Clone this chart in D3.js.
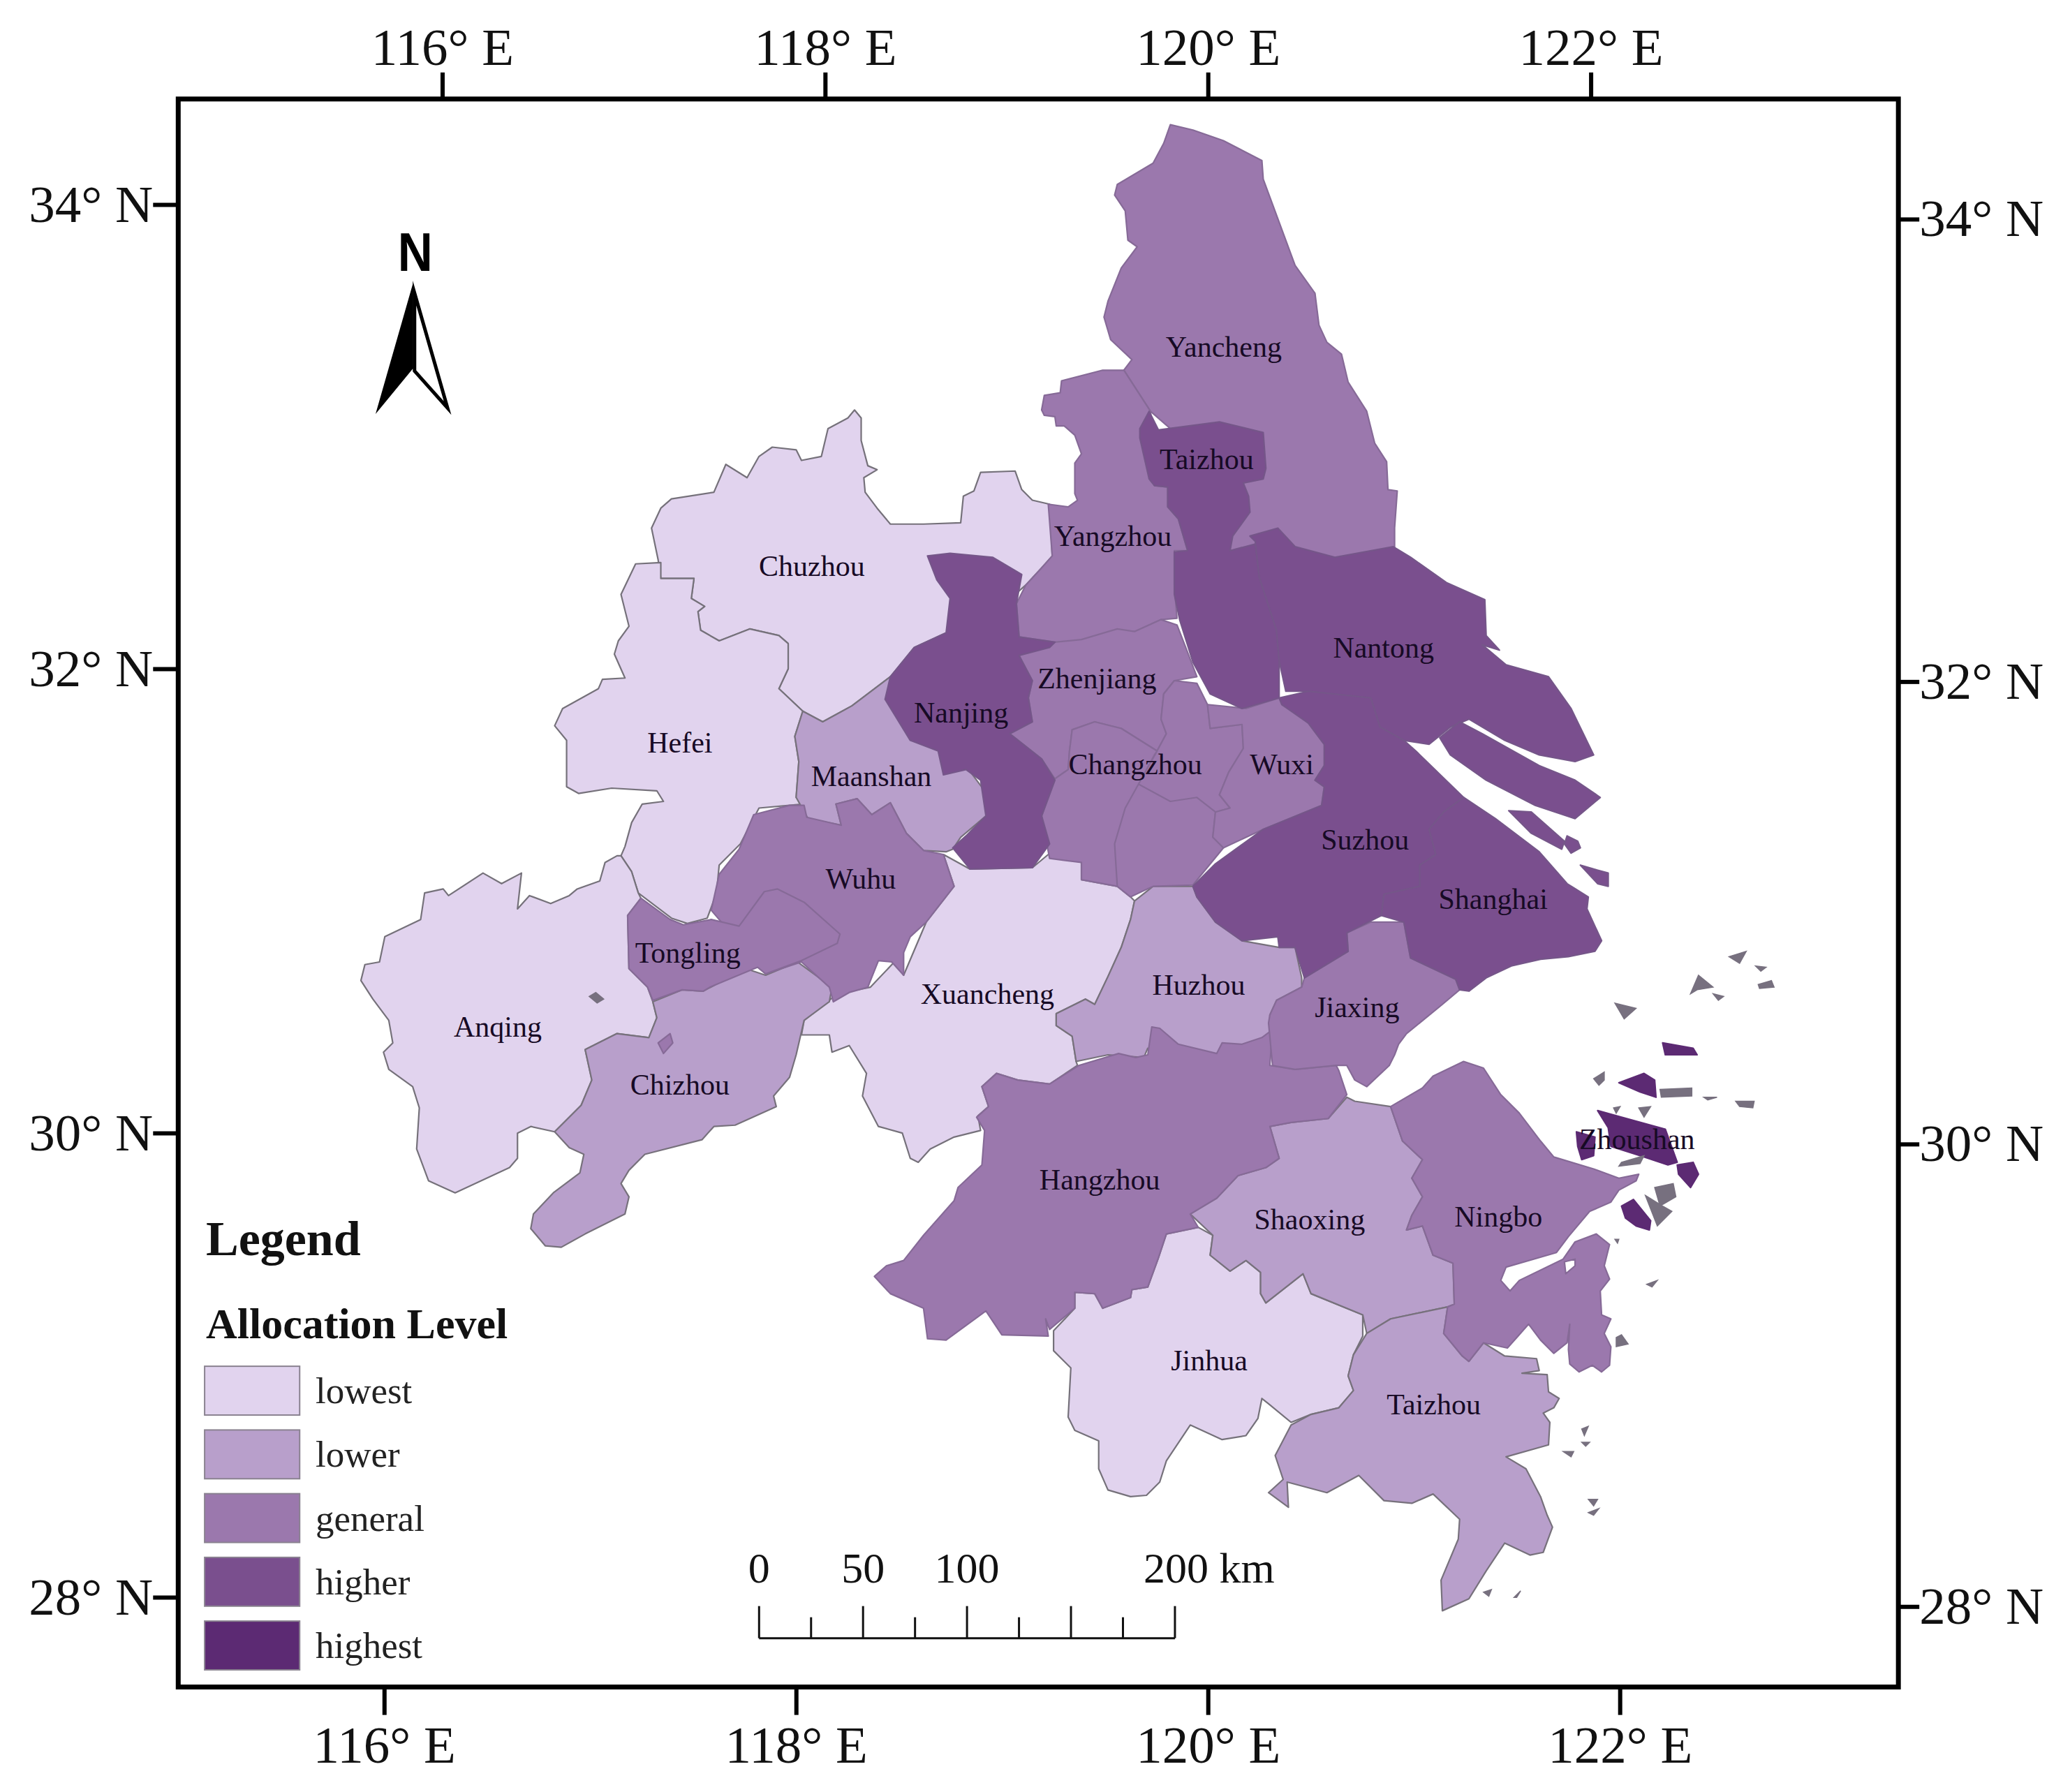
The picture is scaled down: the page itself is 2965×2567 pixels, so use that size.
<!DOCTYPE html>
<html><head><meta charset="utf-8"><title>Allocation level map</title>
<style>html,body{margin:0;background:#fff}svg{display:block}text{font-family:"Liberation Serif",serif}</style>
<script src="https://cdn.jsdelivr.net/npm/d3@7/dist/d3.min.js"></script></head><body><svg id="map"></svg>
<script>
// Map data: outlines in projected map units (easting, southing; 200 km = 315 units)
const Chuzhou=[[[491,398],[498,383],[506,376],[538,371],[547,350],[563,360],[572,344],[582,337],[600,339],[604,347],[619,344],[624,323],[639,315],[644,309],[649,315],[649,332],[654,351],[661,354],[651,360],[652,371],[661,383],[671,395],[696,395],[724,394],[726,374],[734,370],[739,356],[765,355],[770,369],[778,377],[791,380],[793,419],[785,428],[773,441],[740,470],[713,477],[689,488],[671,510],[642,532],[620,544],[605,536],[587,519],[594,504],[594,485],[587,479],[565,474],[542,483],[528,475],[526,461],[531,457],[521,451],[523,436],[498,436],[496,422]]];
const Hefei=[[[498,424],[479,425],[468,448],[474,472],[466,483],[463,493],[471,511],[454,512],[451,519],[424,534],[418,547],[427,558],[427,593],[436,598],[461,594],[495,596],[500,604],[484,606],[476,620],[471,638],[468,645],[476,657],[481,673],[506,692],[518,696],[533,692],[540,673],[542,652],[558,636],[572,609],[605,606],[600,601],[602,574],[599,555],[605,536],[587,519],[594,504],[594,485],[587,479],[565,474],[542,483],[528,475],[526,461],[531,457],[521,451],[523,436],[498,436]]];
const Anqing=[[[465,645],[456,650],[452,664],[435,670],[429,675],[415,681],[399,675],[390,685],[393,658],[378,666],[364,658],[338,675],[334,670],[320,673],[317,693],[290,706],[286,725],[275,727],[272,739],[281,753],[293,769],[296,786],[289,793],[293,806],[311,819],[316,835],[314,866],[323,890],[343,899],[384,880],[390,873],[390,854],[400,849],[418,853],[438,833],[446,814],[441,791],[465,779],[489,782],[495,767],[492,755],[488,744],[474,730],[473,690],[483,677],[481,673],[476,657],[468,645]]];
const Xuancheng=[[[711,644],[731,655],[778,654],[790,644],[815,650],[815,663],[842,668],[852,676],[855,679],[852,693],[845,714],[835,736],[825,757],[818,753],[796,764],[796,773],[808,781],[811,800],[812,803],[791,817],[767,814],[751,809],[740,819],[745,834],[737,841],[739,852],[719,857],[701,866],[692,876],[686,873],[680,854],[662,849],[650,826],[653,809],[640,788],[627,793],[625,780],[604,780],[606,769],[631,749],[656,744],[674,725],[681,735],[698,695],[719,668]]];
const Jinhua=[[[879,930],[903,925],[914,931],[912,946],[927,958],[939,950],[950,959],[950,975],[954,982],[982,960],[988,975],[1027,991],[1027,1007],[1020,1021],[1016,1037],[1020,1048],[1009,1061],[988,1066],[973,1072],[956,1058],[951,1054],[948,1069],[939,1082],[921,1085],[897,1074],[879,1101],[874,1117],[864,1127],[852,1128],[835,1123],[828,1107],[828,1086],[810,1078],[805,1068],[807,1031],[794,1018],[794,1003],[810,986],[810,974],[825,975],[831,986],[852,978],[853,972],[865,970],[873,948]]];
const Maanshan=[[[605,536],[620,544],[642,532],[671,510],[700,540],[745,600],[743,615],[724,631],[718,640],[713,642],[696,641],[683,628],[671,605],[657,614],[646,602],[630,606],[634,622],[609,617],[600,601],[602,574],[599,555]]];
const Chizhou=[[[492,755],[514,746],[530,747],[562,730],[577,735],[601,725],[627,744],[625,755],[606,769],[600,795],[595,812],[583,826],[585,834],[554,848],[538,849],[529,859],[486,870],[474,882],[468,892],[474,902],[471,915],[441,930],[423,940],[411,939],[400,926],[402,915],[417,899],[437,884],[440,870],[429,865],[418,853],[438,833],[446,814],[441,791],[465,779],[489,782],[495,767]]];
const Huzhou=[[[855,679],[869,668],[899,668],[902,676],[916,695],[936,709],[964,714],[976,714],[981,737],[981,744],[962,754],[957,765],[958,790],[939,795],[922,797],[899,802],[875,792],[865,790],[862,797],[835,795],[811,800],[808,781],[796,773],[796,764],[818,753],[825,757],[835,736],[845,714],[852,693]]];
const Shaoxing=[[[1015,827],[1021,830],[1048,834],[1057,860],[1072,874],[1064,888],[1072,902],[1064,916],[1060,927],[1072,924],[1080,946],[1095,952],[1096,983],[1091,985],[1048,994],[1030,1005],[1027,991],[988,975],[982,960],[954,982],[950,975],[950,959],[939,950],[927,958],[912,946],[914,931],[897,915],[917,903],[933,886],[954,880],[964,873],[957,849],[973,846],[1001,843]]];
const TaizhouZJ=[[[1030,1005],[1048,994],[1091,985],[1088,1005],[1102,1022],[1107,1026],[1118,1012],[1134,1022],[1158,1024],[1160,1033],[1147,1035],[1166,1036],[1167,1049],[1175,1054],[1171,1061],[1163,1065],[1168,1072],[1167,1089],[1135,1098],[1150,1107],[1161,1128],[1166,1142],[1170,1151],[1163,1170],[1153,1172],[1134,1163],[1120,1184],[1107,1205],[1087,1214],[1086,1191],[1099,1160],[1100,1145],[1080,1126],[1064,1133],[1043,1131],[1024,1112],[1000,1125],[970,1117],[971,1136],[956,1125],[967,1115],[961,1097],[973,1074],[988,1066],[1009,1061],[1020,1048],[1016,1037],[1020,1021]]];
const Yancheng=[[[882,94],[899,98],[922,106],[951,121],[952,135],[976,200],[991,221],[994,245],[1000,258],[1011,267],[1016,288],[1030,310],[1036,334],[1045,348],[1046,369],[1053,370],[1051,398],[1051,413],[1000,425],[927,415],[900,400],[890,330],[867,310],[858,296],[847,279],[853,271],[837,256],[832,239],[835,227],[845,202],[857,186],[850,181],[848,159],[840,147],[842,139],[869,123],[877,108]]];
const Yangzhou=[[[831,279],[847,279],[858,296],[867,310],[870,340],[870,366],[880,367],[880,382],[888,391],[895,415],[885,415],[885,441],[887,466],[875,467],[855,476],[842,475],[815,484],[795,484],[768,480],[766,455],[773,441],[785,428],[793,419],[790,380],[805,382],[812,377],[810,372],[810,349],[815,342],[810,328],[802,321],[796,321],[795,314],[787,313],[785,309],[787,298],[799,296],[800,287]]];
const Zhenjiang=[[[768,494],[795,484],[815,482],[842,474],[855,476],[875,467],[887,471],[894,489],[902,510],[885,513],[877,523],[875,542],[879,553],[872,566],[845,549],[825,544],[808,550],[806,566],[805,580],[795,587],[785,572],[761,553],[778,544],[775,526],[778,513]]];
const Changzhou=[[[872,566],[845,549],[825,544],[808,550],[806,566],[805,580],[795,587],[785,615],[791,647],[815,650],[815,663],[842,668],[840,636],[848,609],[858,591],[870,569]],[[858,591],[882,604],[902,601],[916,612],[914,631],[922,639],[899,667],[869,668],[852,676],[842,668],[840,636],[848,609]],[[877,523],[885,513],[902,515],[910,531],[912,549],[936,546],[937,564],[926,582],[919,599],[927,609],[916,612],[902,601],[882,604],[858,591],[872,566],[879,553],[875,542]]];
const Wuxi=[[[910,531],[939,534],[964,526],[986,545],[998,561],[998,577],[991,588],[998,593],[996,607],[952,625],[922,639],[914,631],[916,612],[927,609],[919,599],[926,582],[937,564],[936,546],[912,549]]];
const Wuhu=[[[568,614],[595,607],[606,607],[608,616],[634,622],[630,606],[646,602],[657,614],[671,605],[683,628],[696,641],[711,644],[719,668],[698,695],[686,706],[681,718],[681,735],[672,725],[662,724],[654,744],[640,748],[628,755],[625,744],[604,725],[577,734],[536,686],[542,659],[557,640]]];
const Tongling=[[[483,677],[505,693],[515,697],[536,693],[557,698],[576,672],[586,670],[606,680],[633,704],[631,711],[604,724],[577,734],[571,729],[535,744],[530,747],[514,746],[492,754],[488,744],[474,730],[473,690]],[[496,786],[505,779],[507,786],[500,794]]];
const Hangzhou=[[[740,819],[751,809],[767,814],[791,817],[813,803],[843,794],[856,797],[865,795],[868,774],[874,775],[888,787],[917,794],[921,786],[936,787],[951,782],[959,776],[957,803],[976,806],[1007,803],[1009,807],[1015,825],[1001,843],[973,846],[957,849],[964,873],[954,880],[933,886],[917,903],[897,915],[903,925],[879,930],[873,948],[865,970],[853,972],[852,978],[831,986],[825,975],[810,974],[810,986],[791,1002],[788,994],[790,1007],[755,1006],[743,988],[713,1010],[699,1009],[696,986],[671,975],[659,962],[668,954],[681,950],[696,931],[719,905],[722,895],[740,878],[742,852],[736,842],[745,834]]];
const Jiaxing=[[[1015,703],[1033,695],[1058,695],[1063,722],[1097,738],[1100,746],[1087,757],[1060,779],[1054,787],[1051,795],[1047,803],[1030,819],[1021,814],[1015,803],[1007,803],[976,806],[959,803],[956,771],[957,765],[962,754],[981,744],[983,737],[1016,717]]];
const Ningbo=[[[1048,834],[1072,820],[1080,811],[1103,800],[1118,805],[1131,825],[1145,839],[1161,860],[1171,872],[1201,881],[1220,888],[1235,885],[1233,890],[1220,897],[1214,906],[1198,913],[1182,932],[1173,944],[1135,955],[1131,965],[1138,973],[1145,965],[1178,949],[1187,936],[1203,930],[1213,938],[1209,954],[1213,964],[1206,973],[1207,991],[1214,994],[1209,1005],[1214,1015],[1213,1029],[1207,1034],[1200,1029],[1190,1034],[1183,1028],[1182,1017],[1183,998],[1181,1012],[1171,1020],[1161,1010],[1152,998],[1144,1007],[1136,1016],[1118,1012],[1107,1026],[1102,1022],[1088,1005],[1091,985],[1096,983],[1095,952],[1080,946],[1072,924],[1060,927],[1064,916],[1072,902],[1064,888],[1072,874],[1057,860]],[[1179,951],[1187,949],[1187,954],[1180,960]]];
const Taizhou=[[[866,310],[873,324],[919,318],[952,326],[954,353],[952,361],[937,364],[941,374],[942,386],[929,404],[927,415],[946,410],[949,435],[962,475],[964,498],[964,526],[936,534],[912,523],[899,499],[889,467],[885,448],[885,416],[895,415],[888,391],[880,382],[880,367],[870,366],[866,361],[859,330],[859,323]]];
const Nantong=[[[942,404],[963,398],[976,412],[1006,420],[1050,412],[1063,420],[1090,439],[1119,452],[1120,479],[1130,490],[1117,486],[1135,501],[1167,510],[1184,534],[1201,569],[1187,574],[1160,569],[1134,558],[1107,542],[1093,548],[1077,561],[1058,558],[1040,548],[1033,526],[986,521],[969,521],[964,498],[962,475],[949,435],[946,408]]];
const Nanjing=[[[699,419],[716,417],[748,420],[770,433],[766,455],[768,480],[795,484],[791,488],[768,494],[778,513],[775,526],[778,544],[761,553],[785,572],[795,588],[785,615],[791,636],[778,654],[731,655],[718,639],[728,630],[743,615],[739,588],[728,580],[711,584],[707,566],[686,558],[667,527],[671,510],[689,488],[713,477],[716,451],[706,437]]];
const Suzhou=[[[964,526],[986,521],[1033,526],[1040,548],[1058,558],[1067,566],[1103,601],[1088,612],[1077,625],[1082,644],[1070,652],[1070,668],[1043,674],[1041,690],[1015,703],[1016,717],[983,737],[976,714],[964,714],[963,706],[936,709],[916,695],[902,676],[899,668],[916,651],[952,625],[996,607],[998,593],[991,588],[998,577],[998,561],[986,545],[966,531]]];
const Shanghai=[[[1103,601],[1127,617],[1160,642],[1181,666],[1197,676],[1196,685],[1207,709],[1202,717],[1182,721],[1161,723],[1139,728],[1120,737],[1107,747],[1100,746],[1097,738],[1063,722],[1058,695],[1041,690],[1043,674],[1070,668],[1070,652],[1082,644],[1077,625],[1088,612]],[[1085,556],[1100,544],[1117,553],[1160,577],[1187,588],[1206,601],[1187,617],[1157,607],[1120,588],[1093,569]],[[1137,611],[1154,612],[1179,634],[1177,640],[1154,628]],[[1181,630],[1189,634],[1191,639],[1184,643],[1179,636]],[[1191,652],[1201,655],[1212,658],[1212,668],[1204,666]]];
const Zhoushan=[[[1204,837],[1222,842],[1255,851],[1264,876],[1257,878],[1236,871],[1214,864],[1212,850]],[[1188,853],[1202,857],[1201,871],[1192,874],[1189,864]],[[1220,816],[1239,809],[1247,814],[1248,827],[1236,823]],[[1222,909],[1231,904],[1244,920],[1243,927],[1233,924],[1225,918]],[[1264,878],[1276,876],[1280,885],[1274,895],[1265,885]],[[1253,786],[1276,790],[1279,795],[1255,795]]];
const Islets=[[[444,751],[449,748],[455,753],[450,756]],[[1251,821],[1275,820],[1275,826],[1252,827]],[[1201,813],[1209,808],[1209,814],[1205,818]],[[1216,835],[1221,834],[1218,839]],[[1235,835],[1244,834],[1239,842]],[[1217,756],[1233,760],[1224,768]],[[1274,749],[1280,735],[1291,744],[1279,746]],[[1291,749],[1299,751],[1295,754]],[[1303,721],[1316,717],[1311,726]],[[1325,742],[1335,739],[1337,744],[1326,745]],[[1323,728],[1331,729],[1327,732]],[[1247,895],[1261,892],[1263,902],[1251,909]],[[1240,901],[1253,909],[1260,913],[1249,924]],[[1222,876],[1239,871],[1236,877],[1220,879]],[[1284,827],[1294,827],[1287,829]],[[1308,830],[1322,830],[1321,835],[1311,834]],[[1241,968],[1249,965],[1245,970]],[[1218,1008],[1222,1006],[1227,1013],[1218,1015]],[[1192,1077],[1197,1075],[1194,1082]],[[1178,1094],[1186,1094],[1184,1098]],[[1192,1087],[1198,1087],[1195,1090]],[[1197,1130],[1204,1130],[1201,1135]],[[1197,1140],[1205,1137],[1201,1142]],[[1118,1200],[1124,1198],[1122,1203]],[[1141,1204],[1146,1199],[1143,1204]],[[1217,934],[1220,934],[1219,937]]];

const levels=["lowest","lower","general","higher","highest"];
const levelColors=["#e1d3ee","#b89fcb","#9b78ad","#7a4f8e","#5c2a73"];
const levelEdges=["#75717a","#77717c","#866a97","#755689","#5c2a73"];
const cities=[
 ["Chuzhou",0,Chuzhou,615,429],["Hefei",0,Hefei,515,563],["Anqing",0,Anqing,377,778],["Xuancheng",0,Xuancheng,748,753],["Jinhua",0,Jinhua,916,1031],
 ["Maanshan",1,Maanshan,660,588],["Chizhou",1,Chizhou,515,822],["Huzhou",1,Huzhou,908,746],["Shaoxing",1,Shaoxing,992,924],["Taizhou",1,TaizhouZJ,1086,1064],
 ["Yancheng",2,Yancheng,927,263],["Yangzhou",2,Yangzhou,843,406],["Zhenjiang",2,Zhenjiang,831,514],["Changzhou",2,Changzhou,860,579],["Wuxi",2,Wuxi,971,579],["Wuhu",2,Wuhu,652,666],["Tongling",2,Tongling,521,722],["Hangzhou",2,Hangzhou,833,894],["Jiaxing",2,Jiaxing,1028,763],["Ningbo",2,Ningbo,1135,922],
 ["Taizhou",3,Taizhou,914,348],["Nantong",3,Nantong,1048,491],["Nanjing",3,Nanjing,728,540],["Suzhou",3,Suzhou,1034,636],["Shanghai",3,Shanghai,1131,681],
 ["Zhoushan",4,Zhoushan,1240,863]];
const lonTicks=[116,118,120,122], latTicks=[28,30,32,34];
const scaleBarKm=[0,25,50,75,100,125,150,175,200], scaleBarLabels=[0,50,100];

const W=2965,H=2567;
const svg=d3.select("#map").attr("width",W).attr("height",H).attr("viewBox",[0,0,W,H]);
svg.append("rect").attr("width",W).attr("height",H).attr("fill","#fff");
// map units → page
const mapE=d3.scaleLinear().domain([0,1560]).range([0,W]);
const mapS=d3.scaleLinear().domain([0,H*1560/W]).range([0,H]);
// sheet layout units → page
const layX=d3.scaleLinear().domain([0,1568]).range([0,W]);
const layY=d3.scaleLinear().domain([0,H*1568/W]).range([0,H]);
const line=d3.line().x(d=>mapE(d[0])).y(d=>mapS(d[1])).curve(d3.curveLinearClosed);
const layLine=d3.line().x(d=>layX(d[0])).y(d=>layY(d[1])).curve(d3.curveLinearClosed);
const frame={x0:layX(135),x1:layX(1438),y0:layY(75),y1:layY(1278)};

svg.append("g").selectAll("path").data(cities).join("path")
  .attr("d",d=>d[2].map(r=>line(r)).join(""))
  .attr("fill-rule","evenodd")
  .attr("fill",d=>levelColors[d[1]])
  .attr("stroke",d=>levelEdges[d[1]]).attr("stroke-width",2.2).attr("stroke-linejoin","round");
svg.append("g").selectAll("path").data(Islets).join("path").attr("d",line).attr("fill","#77707f").attr("stroke","#77707f").attr("stroke-width",1.5);
svg.append("g").selectAll("text").data(cities).join("text")
  .attr("x",d=>layX(d[3])).attr("y",d=>layY(d[4])).attr("dy",".33em").attr("text-anchor","middle")
  .attr("font-size",42).attr("fill","#170a25").text(d=>d[0]);

// graticule ticks, each frame side with its own scale
const fs=75;
const lonTop=d3.scaleLinear().domain([116,122]).range([layX(335),layX(1205)]);
const lonBot=d3.scaleLinear().domain([116,122]).range([layX(291),layX(1227)]);
const latL=d3.scaleLinear().domain([28,34]).range([layY(1210),layY(155)]);
const latR=d3.scaleLinear().domain([28,34]).range([layY(1217),layY(166)]);
const fmtE=d=>d+"° E", fmtN=d=>d+"° N";
function styleAxis(g){g.select(".domain").remove();g.selectAll("line").attr("stroke","#000").attr("stroke-width",6);g.selectAll("text").attr("font-family","Liberation Serif").attr("font-size",fs).attr("fill","#111");}
svg.append("g").attr("transform",`translate(0,${frame.y0})`).call(d3.axisTop(lonTop).tickValues(lonTicks).tickFormat(fmtE).tickSize(38).tickPadding(11)).call(styleAxis);
svg.append("g").attr("transform",`translate(0,${frame.y1})`).call(d3.axisBottom(lonBot).tickValues(lonTicks).tickFormat(fmtE).tickSize(40).tickPadding(15)).call(styleAxis);
svg.append("g").attr("transform",`translate(${frame.x0},0)`).call(d3.axisLeft(latL).tickValues(latTicks).tickFormat(fmtN).tickSize(36).tickPadding(0)).call(styleAxis);
svg.append("g").attr("transform",`translate(${frame.x1},0)`).call(d3.axisRight(latR).tickValues(latTicks).tickFormat(fmtN).tickSize(30).tickPadding(0)).call(styleAxis);
svg.append("rect").attr("x",frame.x0).attr("y",frame.y0).attr("width",frame.x1-frame.x0).attr("height",frame.y1-frame.y0).attr("fill","none").attr("stroke","#000").attr("stroke-width",7);

// north arrow
const arrowDark=[[313,214],[284.5,313.6],[313,279]], arrowOpen=[[314,222],[339,309],[314,281]];
const na=svg.append("g");
na.append("path").attr("d",layLine(arrowOpen)).attr("fill","#fff").attr("stroke","#000").attr("stroke-width",5).attr("stroke-linejoin","miter").attr("stroke-miterlimit",8);
na.append("path").attr("d",layLine(arrowDark)).attr("fill","#000");
na.append("text").attr("x",layX(314.5)).attr("y",layY(205)).attr("text-anchor","middle").attr("font-size",78).attr("font-weight","bold").style("font-family","Liberation Sans").attr("textLength",50).attr("lengthAdjust","spacingAndGlyphs").attr("fill","#000").text("N");

// scale bar
const barX=d3.scaleLinear().domain([0,200]).range([layX(575),layX(890)]);
const barY=layY(1241);
const sb=svg.append("g");
sb.append("line").attr("x1",barX(0)).attr("x2",barX(200)).attr("y1",barY).attr("y2",barY).attr("stroke","#111").attr("stroke-width",3);
sb.selectAll("line.t").data(scaleBarKm).join("line").attr("class","t").attr("x1",d=>barX(d)).attr("x2",d=>barX(d)).attr("y1",barY)
  .attr("y2",d=>barY-(d%50===0?46:30)).attr("stroke","#111").attr("stroke-width",3);
sb.selectAll("text.l").data(scaleBarLabels).join("text").attr("class","l").attr("x",d=>barX(d)).attr("y",layY(1199)).attr("text-anchor","middle").attr("font-size",62).attr("fill","#111").text(d=>d);
sb.append("text").attr("x",barX(200)-45).attr("y",layY(1199)).attr("font-size",62).attr("fill","#111").text("200 km");

// legend
const legendRow=d3.scaleBand().domain(levels).range([layY(1035),layY(1265)]).paddingInner(0.234).paddingOuter(0);
const lg=svg.append("g");
lg.append("text").attr("x",layX(156)).attr("y",layY(951)).attr("font-size",70).attr("font-weight","bold").attr("fill","#111").text("Legend");
lg.append("text").attr("x",layX(156)).attr("y",layY(1014)).attr("font-size",62).attr("font-weight","bold").attr("fill","#111").text("Allocation Level");
lg.selectAll("rect").data(levels).join("rect").attr("x",layX(155)).attr("width",layX(227)-layX(155)).attr("y",d=>legendRow(d)).attr("height",legendRow.bandwidth())
  .attr("fill",(d,i)=>levelColors[i]).attr("stroke","#8a8290").attr("stroke-width",2);
lg.selectAll("text.i").data(levels).join("text").attr("class","i").attr("x",layX(239)).attr("y",d=>legendRow(d)+legendRow.bandwidth()/2+18).attr("font-size",53).attr("fill","#222").text(d=>d);
</script></body></html>
